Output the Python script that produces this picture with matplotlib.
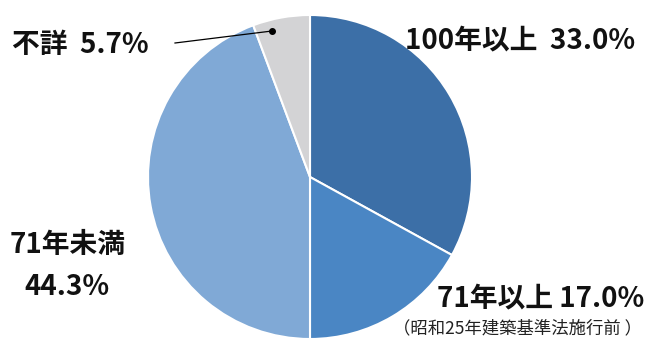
import matplotlib.pyplot as plt

plt.rcParams['font.family'] = ['Noto Sans CJK JP', 'DejaVu Sans']

labels = ['100年以上', '71年以上', '71年未満', '不詳']
shares = [33.0, 17.0, 44.3, 5.7]
colors = ['#3c6fa7', '#4a86c4', '#80a9d6', '#d3d3d5']

W, H = 654, 339
fig = plt.figure(figsize=(W / 100, H / 100), dpi=100)
ax = fig.add_axes([0, 0, 1, 1])

cx, cy, r = 310, H - 177, 162
ax.pie(shares, colors=colors, startangle=90, counterclock=False,
       center=(cx, cy), radius=r, frame=True,
       wedgeprops=dict(edgecolor='white', linewidth=1.5))
ax.set_xlim(0, W)
ax.set_ylim(0, H)
ax.set_aspect('equal')
ax.axis('off')

bold = dict(fontsize=20, fontweight='bold', color='#111111')
ax.text(405, H - 40, f'{labels[0]}  {shares[0]:.1f}%', ha='left', va='center', **bold)
ax.text(437, H - 298, f'{labels[1]} {shares[1]:.1f}%', ha='left', va='center', **bold)
ax.text(393, H - 328, '（昭和25年建築基準法施行前 ）', ha='left', va='center',
        fontsize=12.5, color='#222222')
ax.text(68, H - 245, labels[2], ha='center', va='center', **bold)
ax.text(67, H - 287, f'{shares[2]:.1f}%', ha='center', va='center', **bold)
ax.text(12, H - 45, f'{labels[3]}  {shares[3]:.1f}%', ha='left', va='center', **bold)

# leader line for the small slice
ax.plot([175, 272], [H - 43, H - 31], color='black', linewidth=0.9)
ax.plot(272, H - 31, 'o', color='black', markersize=4)

fig.savefig('out.png', dpi=100)
